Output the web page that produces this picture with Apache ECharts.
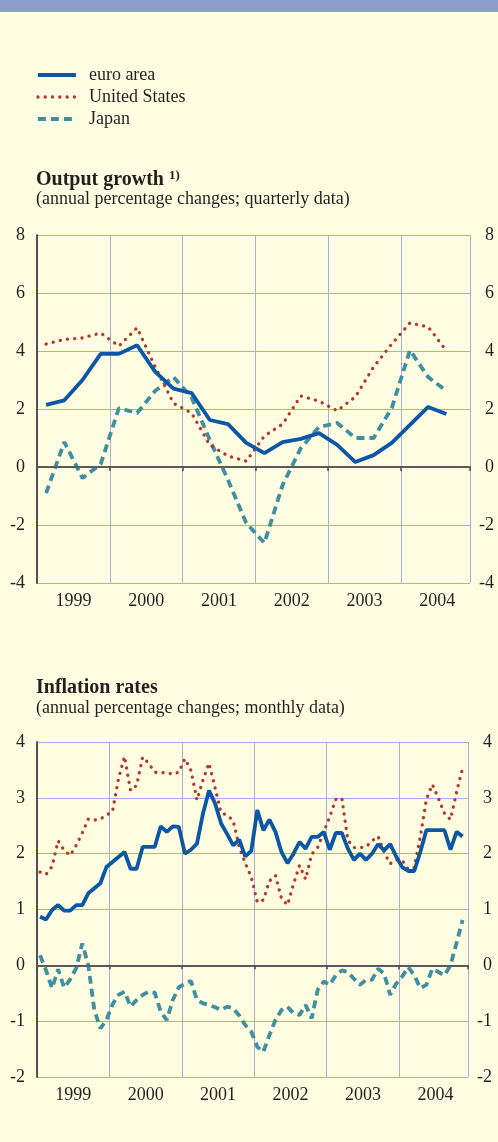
<!DOCTYPE html>
<html>
<head>
<meta charset="utf-8">
<script src="https://cdn.jsdelivr.net/npm/echarts@6/dist/echarts.min.js"></script>
<style>
html, body { margin: 0; padding: 0; background: #fffde1; }
#chart { width: 498px; height: 1142px; }
</style>
</head>
<body>
<div id="chart"></div>
<script>
// output growth, quarterly data, 1999 Q1 - 2004 Q3
var gdpEuro = [2.14, 2.3, 3.0, 3.9, 3.9, 4.2, 3.28, 2.7, 2.55, 1.62, 1.48, 0.83, 0.48, 0.86, 0.97, 1.17, 0.76, 0.17, 0.41, 0.83, 1.45, 2.07, 1.83];
var gdpUs = [4.24, 4.4, 4.45, 4.62, 4.17, 4.8, 3.45, 2.2, 1.86, 0.76, 0.38, 0.2, 1.07, 1.48, 2.45, 2.27, 1.94, 2.42, 3.45, 4.24, 4.97, 4.83, 4.01];
var gdpJapan = [-0.9, 0.86, -0.38, 0.1, 2.03, 1.86, 2.63, 3.1, 2.4, 0.93, -0.45, -1.93, -2.62, -0.62, 0.65, 1.38, 1.52, 1.0, 1.0, 2.03, 4.03, 3.1, 2.63];

// inflation rates, monthly data, Jan 1999 - Nov 2004
var cpiEuro = [
	0.87, 0.82, 0.99, 1.08, 0.98, 0.98, 1.08, 1.08, 1.29, 1.38, 1.47, 1.76,
	1.85, 1.94, 2.03, 1.73, 1.73, 2.12, 2.12, 2.12, 2.49, 2.39, 2.49, 2.48,
	2.0, 2.07, 2.18, 2.72, 3.13, 2.9, 2.54, 2.35, 2.15, 2.25, 1.95, 2.05,
	2.78, 2.42, 2.61, 2.39, 2.03, 1.83, 2.0, 2.21, 2.09, 2.3, 2.3, 2.39,
	2.07, 2.37, 2.37, 2.09, 1.89, 2.0, 1.89, 2.0, 2.17, 2.06, 2.17, 1.95,
	1.76, 1.69, 1.69, 2.03, 2.42, 2.42, 2.42, 2.42, 2.07, 2.39, 2.31
];
var cpiUs = [
	1.67, 1.63, 1.77, 2.23, 2.06, 1.97, 2.15, 2.37, 2.62, 2.6, 2.62, 2.69,
	2.75, 3.34, 3.74, 3.13, 3.22, 3.73, 3.62, 3.46, 3.45, 3.45, 3.42, 3.46,
	3.7, 3.49, 2.96, 3.32, 3.62, 3.18, 2.73, 2.69, 2.59, 2.12, 1.83, 1.58,
	1.13, 1.17, 1.51, 1.61, 1.2, 1.08, 1.46, 1.79, 1.54, 1.99, 2.11, 2.39,
	2.66, 2.97, 2.99, 2.24, 2.11, 2.11, 2.12, 2.23, 2.31, 2.03, 1.82, 1.89,
	1.88, 1.72, 1.75, 2.3, 2.97, 3.24, 2.99, 2.72, 2.61, 3.1, 3.53
];
var cpiJapan = [
	0.18, -0.09, -0.41, -0.07, -0.4, -0.25, -0.05, 0.39, 0.0, -0.8, -1.13, -0.98,
	-0.7, -0.53, -0.47, -0.74, -0.62, -0.53, -0.47, -0.49, -0.83, -0.98, -0.62, -0.39,
	-0.33, -0.28, -0.62, -0.68, -0.71, -0.75, -0.8, -0.74, -0.77, -0.9, -1.07, -1.19,
	-1.46, -1.55, -1.25, -0.98, -0.8, -0.74, -0.86, -0.89, -0.71, -0.95, -0.44, -0.29,
	-0.35, -0.18, -0.09, -0.12, -0.24, -0.35, -0.26, -0.26, -0.06, -0.15, -0.53, -0.33,
	-0.2, -0.03, -0.18, -0.41, -0.35, -0.06, -0.12, -0.18, 0.0, 0.4, 0.81
];

var years = ["1999", "2000", "2001", "2002", "2003", "2004"];
var names = ["euro area", "United States", "Japan"];

var font = "Liberation Serif";
var ink = "#231f20";
var gridColor = "#a4addb";
var axisColor = "#4a4a4a";

// x is counted in months from Jan 1999; the axis stops a little before Dec 2004
var monthsShown = 71.4;

function quarterly(arr) {
	return arr.map(function (v, q) { return [q * 3 + 1.5, v]; });
}
function monthly(arr) {
	return arr.map(function (v, i) { return [i + 0.5, v]; });
}

var lineStyles = [
	{ color: "#0b57a5", width: 3.8, type: "solid" },
	{ color: "#b0382e", width: 3.3, type: [0.1, 7.2], cap: "round" },
	{ color: "#3f8fa1", width: 3.8, type: [8, 5] }
];

function xAxes(grid) {
	return [
		{
			type: "value", gridIndex: grid, position: "bottom", min: 0, max: monthsShown, interval: 12,
			axisLine: { lineStyle: { color: axisColor, width: 1.5 } },
			axisTick: { show: true, length: 4, lineStyle: { color: axisColor, width: 1.5 } },
			axisLabel: { show: false },
			splitLine: { show: true, lineStyle: { color: gridColor, width: 1 } }
		},
		{
			type: "value", gridIndex: grid, position: "bottom", min: 0, max: monthsShown, interval: 6,
			axisLine: { show: false },
			axisTick: { show: false },
			splitLine: { show: false },
			axisLabel: {
				margin: 9, fontFamily: font, fontSize: 18, color: ink,
				showMinLabel: true, showMaxLabel: false,
				formatter: function (v) {
					return v % 12 === 6 ? years[(v - 6) / 12] : "";
				}
			}
		}
	];
}

function yAxes(grid, min, max, step) {
	var common = {
		type: "value", gridIndex: grid, min: min, max: max, interval: step,
		axisLine: { show: true, lineStyle: { color: axisColor, width: 1.5 } },
		axisTick: { show: false }
	};
	return [
		Object.assign({}, common, {
			position: "left",
			axisLabel: { margin: 12, fontFamily: font, fontSize: 18, color: ink },
			splitLine: { show: true, lineStyle: { color: gridColor, width: 1 } }
		}),
		Object.assign({}, common, {
			position: "right",
			axisLabel: { margin: 24, align: "right", fontFamily: font, fontSize: 18, color: ink },
			splitLine: { show: false }
		})
	];
}

function seriesFor(grid, data) {
	// drawn Japan first so the euro line sits on top
	var order = [2, 1, 0];
	return order.map(function (k) {
		var s = {
			name: names[k], type: "line", xAxisIndex: grid * 2, yAxisIndex: grid * 2,
			data: data[k], symbol: "none", silent: true,
			lineStyle: lineStyles[k], itemStyle: { color: lineStyles[k].color }
		};
		if (k === 2) {
			s.markLine = {
				silent: true, symbol: "none", label: { show: false },
				lineStyle: { color: "#555555", width: 1.6, type: "solid" },
				data: [{ yAxis: 0 }]
			};
		}
		return s;
	});
}

var chart = echarts.init(document.getElementById("chart"), null, { renderer: "canvas" });

var option = {
	backgroundColor: "#fffde1",
	animation: false,
	graphic: [
		{ type: "rect", left: 0, top: 0, shape: { width: 498, height: 12 }, style: { fill: "#8c9dcf" } },
		{ type: "rect", left: 0, top: 12, shape: { width: 498, height: 2 }, style: { fill: "#ffffff" } }
	],
	title: [
		{
			left: 36, top: 169, itemGap: 0, padding: 0,
			text: "{a|Output growth} {s|1)}",
			textStyle: {
				rich: {
					a: { fontFamily: font, fontSize: 20, fontWeight: "bold", color: ink, lineHeight: 22 },
					s: { fontFamily: font, fontSize: 13, fontWeight: "bold", color: ink, lineHeight: 22, verticalAlign: "top" }
				}
			},
			subtext: "(annual percentage changes; quarterly data)",
			subtextStyle: { fontFamily: font, fontSize: 18, color: ink }
		},
		{
			left: 36, top: 677, itemGap: 0, padding: 0,
			text: "Inflation rates",
			textStyle: { fontFamily: font, fontSize: 20, fontWeight: "bold", color: ink, lineHeight: 22 },
			subtext: "(annual percentage changes; monthly data)",
			subtextStyle: { fontFamily: font, fontSize: 18, color: ink }
		}
	],
	legend: {
		orient: "vertical", left: 36, top: 66, padding: 0,
		itemWidth: 38, itemHeight: 14, itemGap: 4,
		data: names, selectedMode: false,
		lineStyle: { width: "inherit" },
		itemStyle: { opacity: 0 },
		textStyle: { fontFamily: font, fontSize: 18, color: ink, padding: [0, 0, 0, 8] }
	},
	grid: [
		{ left: 37, right: 28, top: 235, height: 348 },
		{ left: 37, right: 30, top: 742, height: 335 }
	],
	xAxis: xAxes(0).concat(xAxes(1)),
	yAxis: yAxes(0, -4, 8, 2).concat(yAxes(1, -2, 4, 1)),
	series: seriesFor(0, [quarterly(gdpEuro), quarterly(gdpUs), quarterly(gdpJapan)])
		.concat(seriesFor(1, [monthly(cpiEuro), monthly(cpiUs), monthly(cpiJapan)]))
};

chart.setOption(option);
</script>
</body>
</html>
